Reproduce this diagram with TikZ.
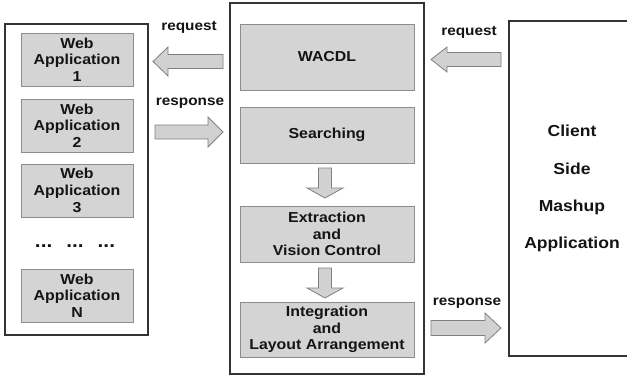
\documentclass[tikz,border=0pt]{standalone}
\usepackage{fontspec}
\setmainfont{Liberation Sans}[FakeStretch=1.1]
\begin{document}
\begin{tikzpicture}[x=1bp,y=-1bp,
  container/.style={draw=black!80, line width=1.3bp, inner sep=0pt},
  inner/.style={draw=black!45, fill=black!17, line width=0.8bp, inner sep=0pt,
    font=\fontsize{14.5}{16.8}\selectfont\bfseries, align=center, text=black!92},
  blockarrow/.style={draw=black!50, fill=black!18, line width=0.8bp, line join=miter},
  lbl/.style={font=\fontsize{14}{16}\selectfont\bfseries, text=black!92, inner sep=0pt}]
\useasboundingbox (0,0) rectangle (627,377);
\fill[white] (0,0) rectangle (627,377);

% containers
\node[container, minimum width=143bp, minimum height=311bp] (left) at (76.5,179.5) {};
\node[container, minimum width=194bp, minimum height=371bp] (mid) at (327,188.5) {};
\node[container, minimum width=126bp, minimum height=335bp,
  font=\fontsize{16}{37.3}\selectfont\bfseries, align=center, text=black!92] (client) at (572,188.5)
  {Client\\Side\\Mashup\\Application};

% web applications
\node[inner, minimum width=112bp, minimum height=53bp] (w1) at (77,59.5) {Web\\Application\\1};
\node[inner, minimum width=112bp, minimum height=53bp] (w2) at (77,125.5) {Web\\Application\\2};
\node[inner, minimum width=112bp, minimum height=53bp] (w3) at (77,190.5) {Web\\Application\\3};
\node[font=\fontsize{19}{19}\selectfont\bfseries, text=black!92, inner sep=0pt] (dots) at (75,246)
  {...\hspace{14bp}...\hspace{14bp}...};
\node[inner, minimum width=112bp, minimum height=53bp] (wn) at (77,295.5) {Web\\Application\\N};

% middle boxes
\node[inner, minimum width=174bp, minimum height=66bp] (wacdl) at (327,57) {WACDL};
\node[inner, minimum width=174bp, minimum height=56bp] (search) at (327,135) {Searching};
\node[inner, minimum width=174bp, minimum height=56bp] (extr) at (327,234) {Extraction\\and\\Vision Control};
\node[inner, minimum width=174bp, minimum height=55bp] (integ) at (327,329.5) {Integration\\and\\Layout Arrangement};

% block arrows
\draw[blockarrow] (223,54.5) -- (168,54.5) -- (168,47) -- (153,61.5) -- (168,76) -- (168,68.5) -- (223,68.5) -- cycle;
\draw[blockarrow] (155,125) -- (208,125) -- (208,117) -- (223,132) -- (208,147) -- (208,139) -- (155,139) -- cycle;
\draw[blockarrow] (501,52.5) -- (447,52.5) -- (447,47) -- (431,59.5) -- (447,72) -- (447,66.5) -- (501,66.5) -- cycle;
\draw[blockarrow] (431,320.5) -- (485,320.5) -- (485,313) -- (501,328) -- (485,343) -- (485,335.5) -- (431,335.5) -- cycle;
\draw[blockarrow] (318.5,168) -- (331.5,168) -- (331.5,188) -- (343,188) -- (325,198) -- (307,188) -- (318.5,188) -- cycle;
\draw[blockarrow] (318.5,268) -- (331.5,268) -- (331.5,288) -- (343,288) -- (325,298) -- (307,288) -- (318.5,288) -- cycle;

% labels
\node[lbl] (lreq) at (189,27) {request};
\node[lbl] (lresp) at (190,103) {response};
\node[lbl] (rreq) at (469,32) {request};
\node[lbl] (rresp) at (467,303) {response};
\end{tikzpicture}
\end{document}
